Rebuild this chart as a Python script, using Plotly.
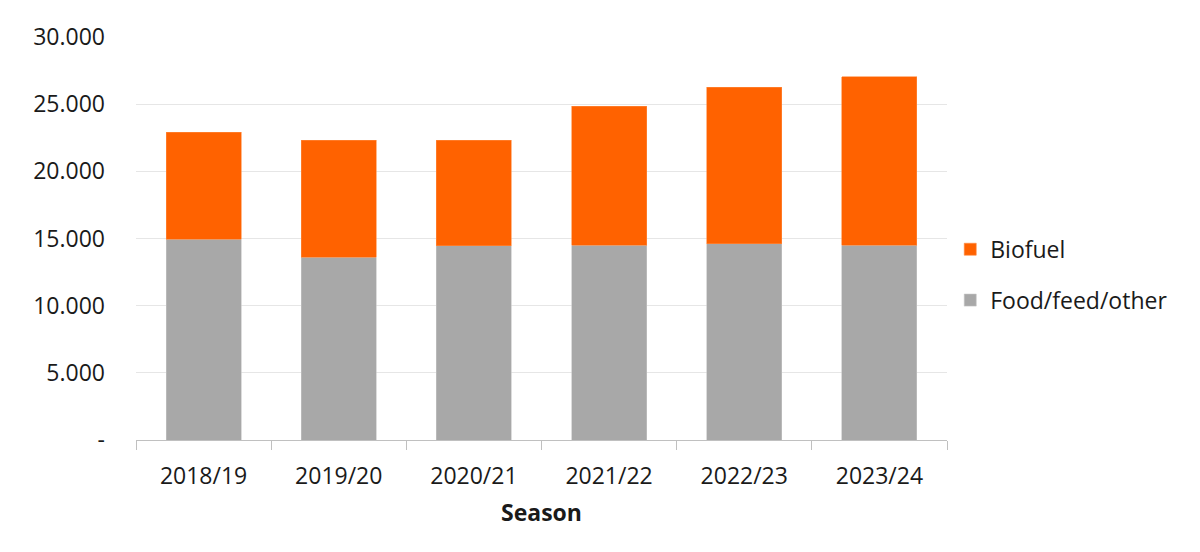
import plotly.graph_objects as go

seasons = ["2018/19", "2019/20", "2020/21", "2021/22", "2022/23", "2023/24"]
food_feed_other = [14950, 13600, 14450, 14500, 14600, 14500]
biofuel = [7950, 8700, 7850, 10350, 11650, 12550]

y_ticks = [0, 5000, 10000, 15000, 20000, 25000, 30000]
y_tick_labels = ["-", "5.000", "10.000", "15.000", "20.000", "25.000", "30.000"]

ORANGE = "#FF6200"
GREY = "#A8A8A8"
FONT = "Open Sans"

fig = go.Figure()
fig.add_trace(go.Bar(x=seasons, y=food_feed_other, name="Food/feed/other",
                     marker=dict(color=GREY, line=dict(width=0.6, color="#c4c4c4")),
                     legendgroup="food", legendrank=2))
fig.add_trace(go.Bar(x=seasons, y=biofuel, name="Biofuel",
                     marker=dict(color=ORANGE, line=dict(width=0.6, color="#ff8a40")),
                     legendgroup="bio", legendrank=1))

fig.update_layout(
    barmode="stack",
    bargap=0.445,
    width=1200, height=552,
    # page body has an 8px margin, so the plot area is offset by that
    margin=dict(l=128, r=261, t=29, b=120),
    plot_bgcolor="white",
    paper_bgcolor="white",
    font=dict(family=FONT, size=23, color="#1a1a1a"),
    legend=dict(
        x=1.004, xanchor="left", y=0.41, yanchor="middle",
        traceorder="grouped", tracegroupgap=18,
        font=dict(size=23, color="#1a1a1a"),
        itemwidth=30,
    ),
    xaxis=dict(
        title=dict(text="<b>Season</b>", font=dict(size=23), standoff=15),
        showline=True, linecolor="#c0c0c0", linewidth=1,
        ticks="outside", tickson="boundaries", ticklen=9, tickcolor="#c0c0c0",
        showgrid=False, automargin=False, ticklabelstandoff=15,
    ),
    yaxis=dict(
        range=[0, 30000],
        tickvals=y_ticks, ticktext=y_tick_labels,
        showgrid=True, gridcolor="#e6e6e6", gridwidth=1,
        zeroline=False, ticks="", ticklabelstandoff=30, automargin=False,
    ),
)

fig.write_html("out.html")
